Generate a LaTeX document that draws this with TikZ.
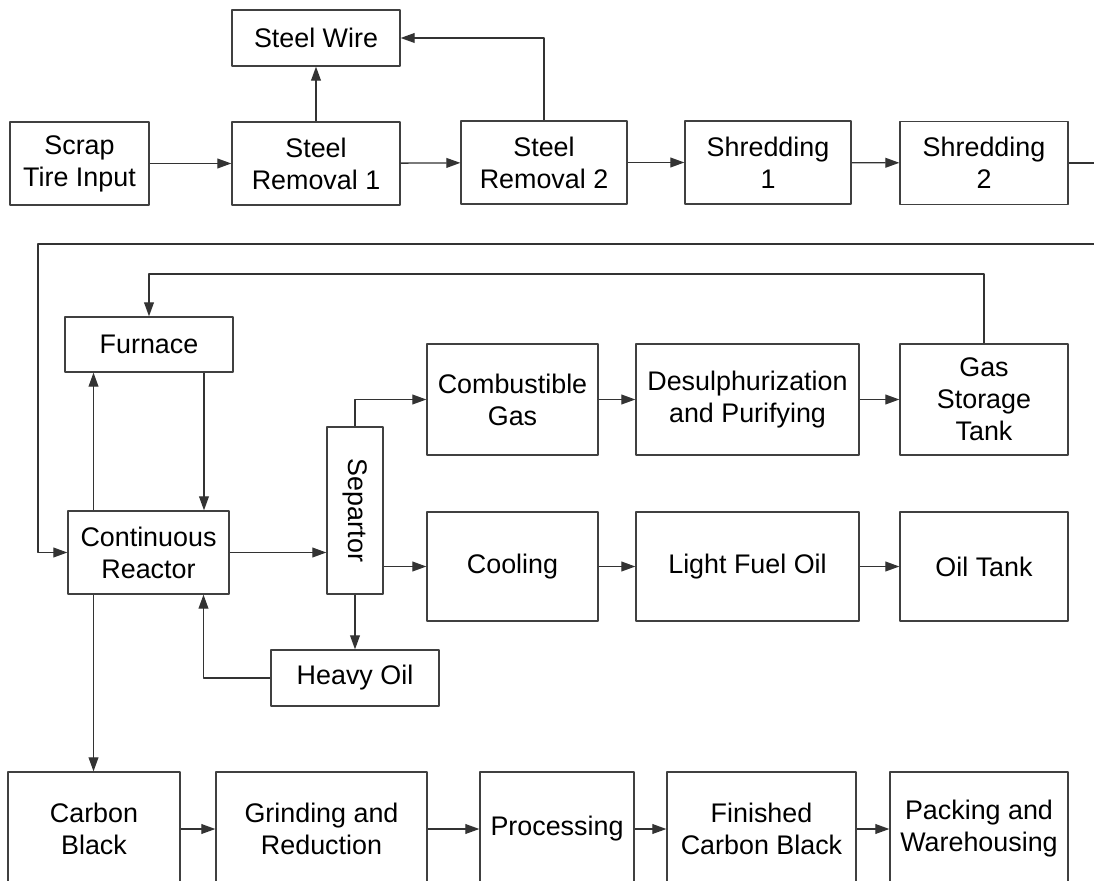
\documentclass[tikz,border=0pt]{standalone}
\usepackage{fontspec}
\setmainfont{Liberation Sans}
\usetikzlibrary{arrows.meta}
\begin{document}
\begin{tikzpicture}[x=0.02cm, y=-0.02cm, font=\fontsize{15.3}{18.2}\selectfont, line join=round, line width=0.75pt,
			>={Triangle[length=8pt,width=5.6pt]},
			box/.style={draw=black!75, align=center, inner sep=0pt},
			flow/.style={draw=black!80, ->}]
			\clip (0,0) rectangle (1094,881);
			\node[box, minimum width=3.36cm, minimum height=1.12cm] (wire) at (316,38) {Steel Wire};
			\node[box, minimum width=2.78cm, minimum height=1.66cm] (scrap) at (79.5,163.5) {Scrap\\Tire Input};
			\node[box, minimum width=3.36cm, minimum height=1.66cm] (rem1) at (316,163.5) {Steel\\Removal 1};
			\node[box, minimum width=3.32cm, minimum height=1.66cm] (rem2) at (544,162.5) {Steel\\Removal 2};
			\node[box, minimum width=3.32cm, minimum height=1.66cm] (shr1) at (768,162.5) {Shredding\\1};
			\node[box, minimum width=3.36cm, minimum height=1.66cm] (shr2) at (984,163) {Shredding\\2};
			\node[box, minimum width=3.36cm, minimum height=1.1cm] (furnace) at (149,344.5) {Furnace};
			\node[box, minimum width=3.22cm, minimum height=1.66cm] (reactor) at (148.5,552.5) {Continuous\\Reactor};
			\node[box, minimum width=1.12cm, minimum height=3.34cm] (sep) at (355,510.5) {\rotatebox{-90}{Separtor}};
			\node[box, minimum width=3.36cm, minimum height=1.12cm] (heavy) at (355,678) {Heavy Oil};
			\node[box, minimum width=3.42cm, minimum height=2.22cm] (gas) at (512.5,399.5) {Combustible\\Gas};
			\node[box, minimum width=4.46cm, minimum height=2.22cm] (desulf) at (747.5,399.5) {Desulphurization\\and Purifying};
			\node[box, minimum width=3.36cm, minimum height=2.22cm] (tank) at (984,399.5) {Gas\\Storage\\Tank};
			\node[box, minimum width=3.42cm, minimum height=2.18cm] (cool) at (512.5,566.5) {Cooling};
			\node[box, minimum width=4.46cm, minimum height=2.18cm] (light) at (747.5,566.5) {Light Fuel Oil};
			\node[box, minimum width=3.36cm, minimum height=2.18cm] (oiltank) at (984,566.5) {Oil Tank};
			\node[box, minimum width=3.44cm, minimum height=2.28cm] (carbon) at (94,829) {Carbon\\Black};
			\node[box, minimum width=4.22cm, minimum height=2.28cm] (grind) at (321.5,829) {Grinding and\\Reduction};
			\node[box, minimum width=3.08cm, minimum height=2.28cm] (proc) at (557,829) {Processing};
			\node[box, minimum width=3.78cm, minimum height=2.28cm] (fin) at (761.5,829) {Finished\\Carbon Black};
			\node[box, minimum width=3.56cm, minimum height=2.28cm] (pack) at (979,829) {Packing and\\Warehousing};
			\coordinate (edge) at (1110,244);
			\coordinate (feed) at (38,244);
			\coordinate (gasback) at (149,274);
			\draw[flow] (scrap) -- (rem1);
			\draw[flow] (rem1) -- (rem2);
			\draw[flow] (rem1) -- (wire);
			\draw[flow] (rem2.north) |- (wire.east);
			\draw[flow] (rem2) -- (shr1);
			\draw[flow] (shr1) -- (shr2);
			\draw[flow] (shr2.east) -| (edge) -- (feed) |- (reactor.west);
			\draw[flow] (tank.north) |- (gasback) -- (furnace.north);
			\draw[flow] ([xshift=-1.1cm]reactor.north) -- ([xshift=-1.1cm]reactor.north |- furnace.south);
			\draw[flow] ([xshift=1.1cm]furnace.south) -- ([xshift=1.1cm]furnace.south |- reactor.north);
			\draw[flow] (reactor.east) -- (reactor.east -| sep.west);
			\draw[flow] (sep.north) |- (gas.west);
			\draw[flow] (sep.east |- cool.west) -- (cool.west);
			\draw[flow] (sep) -- (heavy);
			\draw[flow] (heavy.west) -| ([xshift=1.1cm]reactor.south);
			\draw[flow] ([xshift=-1.1cm]reactor.south) -- ([xshift=-1.1cm]reactor.south |- carbon.north);
			\draw[flow] (gas) -- (desulf);
			\draw[flow] (desulf) -- (tank);
			\draw[flow] (cool) -- (light);
			\draw[flow] (light) -- (oiltank);
			\draw[flow] (carbon) -- (grind);
			\draw[flow] (grind) -- (proc);
			\draw[flow] (proc) -- (fin);
			\draw[flow] (fin) -- (pack);
		\end{tikzpicture}
\end{document}
